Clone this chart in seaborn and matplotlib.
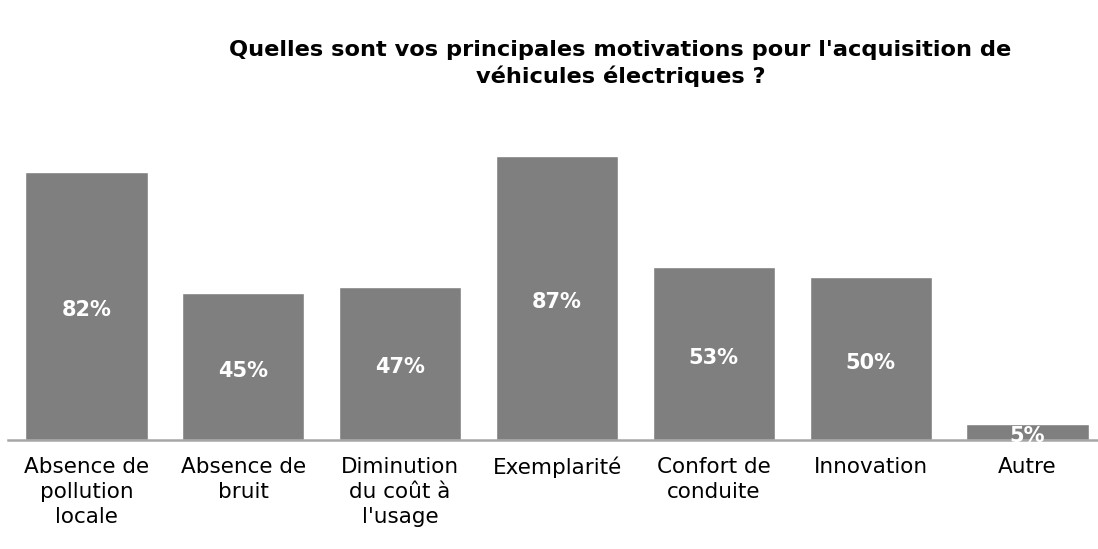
import matplotlib
matplotlib.use("Agg")
import matplotlib.pyplot as plt
import seaborn as sns
import pandas as pd

# données
categories = [
    "Absence de\npollution\nlocale",
    "Absence de\nbruit",
    "Diminution\ndu coût à\nl'usage",
    "Exemplarité",
    "Confort de\nconduite",
    "Innovation",
    "Autre",
]
valeurs = [82, 45, 47, 87, 53, 50, 5]
etiquettes = ["82%", "45%", "47%", "87%", "53%", "50%", "5%"]

df = pd.DataFrame({"motivation": categories, "pct": valeurs})

sns.set_style("white")
plt.rcParams["font.family"] = ["DejaVu Sans"]

fig = plt.figure(figsize=(10.98, 5.49), dpi=100)
ax = fig.add_axes([0.0073, 0.198, 1.0, 0.595])

sns.barplot(data=df, x="motivation", y="pct", color="#7f7f80",
            saturation=1, width=0.78, ax=ax)

# pourcentages au milieu des barres (un peu en dessous)
for i, (v, txt) in enumerate(zip(valeurs, etiquettes)):
    ax.text(i, v / 2 - 1.2, txt, ha="center", va="center", color="white",
            fontsize=15, fontweight="bold")

ax.set_xlim(-0.5, 6.5)
ax.set_ylim(0, 100)
ax.set_xlabel("")
ax.set_ylabel("")
ax.set_yticks([])
for s in ["top", "right", "left"]:
    ax.spines[s].set_visible(False)
ax.spines["bottom"].set_color("#a6a6a6")
ax.spines["bottom"].set_linewidth(1.8)
ax.tick_params(axis="x", length=0, pad=12, labelsize=15.5, labelcolor="black")
for lab in ax.get_xticklabels():
    lab.set_linespacing(1.3)

fig.text(0.565, 0.884, "Quelles sont vos principales motivations pour l'acquisition de\nvéhicules électriques ?",
         ha="center", va="center", fontsize=16.2, fontweight="bold",
         color="black", linespacing=1.35)

fig.savefig("out.png", dpi=100, facecolor="white")
